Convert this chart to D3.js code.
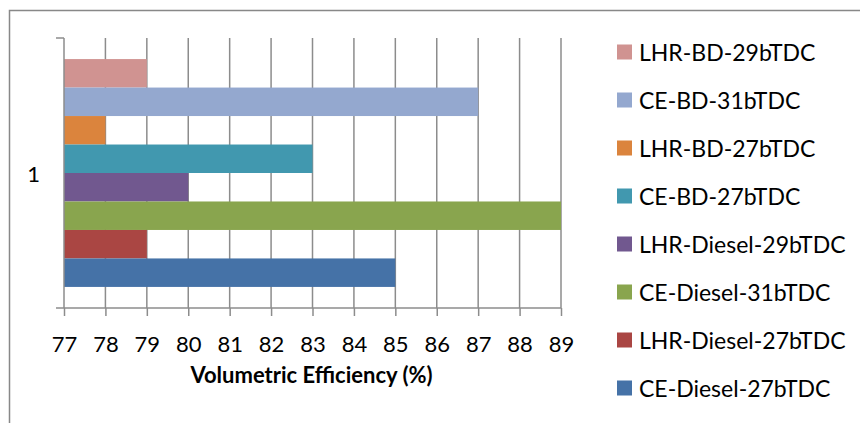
<!DOCTYPE html>
<html>
<head>
<meta charset="utf-8">
<script src="https://cdn.jsdelivr.net/npm/d3@7"></script>
<style>
  html, body { margin: 0; padding: 0; background: #fff; }
  svg { display: block; font-family: Lato, "Open Sans", sans-serif; }
</style>
</head>
<body>
<svg id="chart" width="860" height="423"></svg>
<script>
// Series drawn top to bottom, in legend order
const categories = ["1"];
const seriesNames = [
  "LHR-BD-29bTDC",
  "CE-BD-31bTDC",
  "LHR-BD-27bTDC",
  "CE-BD-27bTDC",
  "LHR-Diesel-29bTDC",
  "CE-Diesel-31bTDC",
  "LHR-Diesel-27bTDC",
  "CE-Diesel-27bTDC"
];
const seriesValues = [79, 87, 78, 83, 80, 89, 79, 85];
const seriesColors = [
  "#D09391", "#94A8CF", "#DB843D", "#4198AF",
  "#71588F", "#89A54E", "#AA4643", "#4572A7"
];
const xTicks = [77, 78, 79, 80, 81, 82, 83, 84, 85, 86, 87, 88, 89];
const xTitle = "Volumetric Efficiency (%)";

const svg = d3.select("#chart");
const plot = { left: 64, right: 561, top: 38, bottom: 308 };

// Outer frame (left and top edges visible)
svg.append("path")
  .attr("d", "M9.5,423 L9.5,10.5 L860,10.5")
  .attr("fill", "none")
  .attr("stroke", "#888")
  .attr("stroke-width", 1.5);

const x = d3.scaleLinear().domain([77, 89]).range([plot.left, plot.right]);
const y0 = d3.scaleBand().domain(categories).range([plot.top, plot.bottom])
  .paddingOuter(0.0925).paddingInner(0);
const y1 = d3.scaleBand().domain(seriesNames).range([0, y0.bandwidth()]);

// Vertical gridlines
svg.append("g").selectAll("line").data(xTicks.slice(1)).join("line")
  .attr("x1", d => x(d)).attr("x2", d => x(d))
  .attr("y1", plot.top).attr("y2", plot.bottom)
  .attr("stroke", "#8c8c8c").attr("stroke-width", 1.5);

// Bars
const bars = seriesNames.map((name, i) => ({ name, value: seriesValues[i], color: seriesColors[i] }));
svg.append("g").selectAll("g").data(categories).join("g")
  .attr("transform", d => `translate(0,${y0(d)})`)
  .selectAll("rect").data(bars).join("rect")
  .attr("x", x(77))
  .attr("y", d => y1(d.name))
  .attr("width", d => x(d.value) - x(77))
  .attr("height", y1.bandwidth())
  .attr("fill", d => d.color);

// Value axis at the bottom
const xAxis = d3.axisBottom(x).tickValues(xTicks).tickSize(8).tickPadding(0).tickFormat(d3.format("d"));
const gx = svg.append("g").attr("transform", `translate(0,${plot.bottom})`).call(xAxis);
gx.select(".domain").attr("d", `M${plot.left - 8},0H${plot.right}`).attr("stroke", "#8c8c8c").attr("stroke-width", 1.5);
gx.selectAll(".tick line").attr("stroke", "#8c8c8c").attr("stroke-width", 1.5);
gx.selectAll(".tick text")
  .attr("y", 44).attr("dy", null)
  .attr("font-size", 22).attr("fill", "#000").attr("font-family", "Lato, sans-serif");

// Category axis on the left
svg.append("line")
  .attr("x1", plot.left).attr("x2", plot.left)
  .attr("y1", plot.top).attr("y2", plot.bottom)
  .attr("stroke", "#8c8c8c").attr("stroke-width", 1.5);
svg.append("line")
  .attr("x1", plot.left - 8).attr("x2", plot.left)
  .attr("y1", plot.top).attr("y2", plot.top)
  .attr("stroke", "#8c8c8c").attr("stroke-width", 1.5);
svg.append("g").selectAll("text").data(categories).join("text")
  .attr("x", 40).attr("y", d => y0(d) + y0.bandwidth() / 2)
  .attr("text-anchor", "end").attr("dominant-baseline", "central")
  .attr("font-size", 22).text(d => d);

// Axis title
svg.append("text")
  .attr("x", (plot.left + plot.right) / 2 - 1).attr("y", 383)
  .attr("text-anchor", "middle").attr("font-size", 22).attr("font-weight", "bold")
  .text(xTitle);

// Legend
const legend = svg.append("g").selectAll("g").data(bars).join("g")
  .attr("transform", (d, i) => `translate(617,${52 + i * 48})`);
legend.append("rect").attr("x", 0).attr("y", -7.5).attr("width", 15).attr("height", 15).attr("fill", d => d.color);
legend.append("text").attr("x", 22).attr("y", 0).attr("dominant-baseline", "central")
  .attr("font-size", 23).text(d => d.name);
</script>
</body>
</html>
